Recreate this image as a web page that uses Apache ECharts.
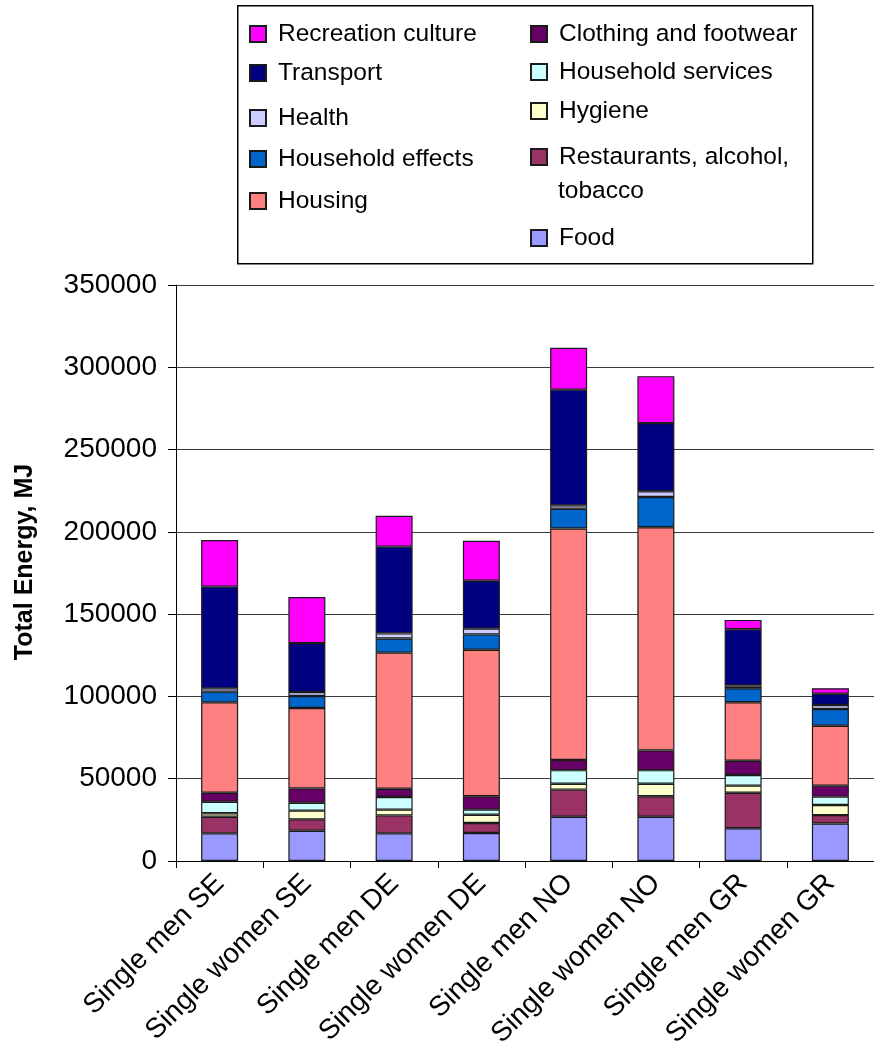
<!DOCTYPE html>
<html>
<head>
<meta charset="utf-8">
<script src="https://cdn.jsdelivr.net/npm/echarts@6/dist/echarts.min.js"></script>
<style>
  html, body { margin: 0; padding: 0; background: #fff; }
  #chart { width: 874px; height: 1055px; }
</style>
</head>
<body>
<div id="chart"></div>
<script>
// Household groups along the x axis
const categories = ['Single men SE', 'Single women SE', 'Single men DE', 'Single women DE',
                    'Single men NO', 'Single women NO', 'Single men GR', 'Single women GR'];

// Energy use per consumption category, MJ (stacked bottom to top)
const food          = [16800, 18400, 16800, 17000, 26900, 26900, 19900, 22800];
const restaurants   = [10100,  6900, 10900,  6100, 16500, 12400, 21600,  5100];
const hygiene       = [ 2100,  5300,  3500,  5000,  3500,  7600,  4300,  6100];
const hhServices    = [ 7000,  4800,  7700,  3100,  8300,  8300,  6500,  5100];
const clothing      = [ 5500,  8700,  5000,  8100,  6200, 12000,  8600,  6700];
const housing       = [54900, 48900, 82700, 89100,140600,135600, 35600, 36400];
const hhEffects     = [ 6500,  7300,  8600,  9300, 12000, 18400,  8500, 10200];
const health        = [ 2000,  2400,  3100,  3500,  2100,  3500,  1600,  2400];
const transport     = [61800, 29700, 52700, 29100, 70300, 41400, 34200,  6800];
const recreation    = [28300, 28000, 18800, 24300, 25400, 28500,  5700,  3400];

const yTicks = { min: 0, max: 350000, interval: 50000 };

const stackDefs = [
  { name: 'Food', data: food, color: '#9999FF' },
  { name: 'Restaurants, alcohol, tobacco', data: restaurants, color: '#993366' },
  { name: 'Hygiene', data: hygiene, color: '#FFFFCC' },
  { name: 'Household services', data: hhServices, color: '#CCFFFF' },
  { name: 'Clothing and footwear', data: clothing, color: '#660066' },
  { name: 'Housing', data: housing, color: '#FF8080' },
  { name: 'Household effects', data: hhEffects, color: '#0066CC' },
  { name: 'Health', data: health, color: '#CCCCFF' },
  { name: 'Transport', data: transport, color: '#000080' },
  { name: 'Recreation culture', data: recreation, color: '#FF00FF' }
];

const FONT = 'Liberation Sans, Arial, sans-serif';
const LEG_FS = 24.5;

// Legend entries: [series name, left, vertical centre, label override]
const legendSlots = [
  ['Recreation culture', 249, 34],
  ['Transport', 249, 73],
  ['Health', 249, 118],
  ['Household effects', 249, 159],
  ['Housing', 249, 201],
  ['Clothing and footwear', 530, 34],
  ['Household services', 530, 72],
  ['Hygiene', 530, 111],
  ['Restaurants, alcohol, tobacco', 530, 157, 'Restaurants, alcohol,'],
  ['Food', 530, 238]
];

const legends = legendSlots.map(([name, left, cy, label]) => ({
  data: [name],
  left: left,
  top: cy - 14,
  padding: 0,
  orient: 'vertical',
  icon: 'rect',
  itemWidth: 16,
  itemHeight: 16,
  itemGap: 0,
  selectedMode: false,
  formatter: label ? () => label : undefined,
  textStyle: { fontFamily: FONT, fontSize: LEG_FS, color: '#000', lineHeight: 28, padding: [0, 0, 0, 7] }
}));

const series = stackDefs.map(s => ({
  name: s.name,
  type: 'bar',
  stack: 'total',
  data: s.data,
  barWidth: 37,
  itemStyle: { color: s.color, borderColor: '#1a1a1a', borderWidth: 1.2 },
  emphasis: { disabled: true },
  animation: false
}));

const chart = echarts.init(document.getElementById('chart'), null, { renderer: 'canvas' });
chart.setOption({
  backgroundColor: '#fff',
  animation: false,
  legend: legends,
  grid: { left: 176, top: 285, width: 708, height: 576, containLabel: false },
  xAxis: {
    type: 'category',
    data: categories,
    axisLine: { show: true, lineStyle: { color: '#000', width: 1 } },
    axisTick: { show: true, length: 7, lineStyle: { color: '#000' } },
    axisLabel: {
      rotate: 45, interval: 0, margin: 18,
      fontFamily: FONT, fontSize: 28, color: '#000'
    },
    splitLine: { show: false }
  },
  yAxis: {
    type: 'value',
    min: yTicks.min, max: yTicks.max, interval: yTicks.interval,
    axisLine: { show: true, lineStyle: { color: '#000', width: 1 } },
    axisTick: { show: true, length: 8, lineStyle: { color: '#000' } },
    axisLabel: {
      margin: 19, fontFamily: FONT, fontSize: 28, color: '#000',
      formatter: v => String(v)
    },
    splitLine: { show: true, lineStyle: { color: '#3a3a3a', width: 1 } }
  },
  graphic: [
    {
      type: 'rect', left: 237, top: 5, z: -1,
      shape: { width: 575, height: 258 },
      style: { fill: '#fff', stroke: '#000', lineWidth: 1.5 }
    },
    {
      type: 'text', x: 558, y: 191,
      style: { text: 'tobacco', fontFamily: FONT, fontSize: LEG_FS, fill: '#000',
               textAlign: 'left', textVerticalAlign: 'middle' }
    },
    {
      type: 'text', x: 25, y: 562, rotation: Math.PI / 2,
      style: { text: 'Total Energy, MJ', fontFamily: FONT, fontSize: 25, fontWeight: 'bold',
               fill: '#000', textAlign: 'center', textVerticalAlign: 'middle' }
    }
  ],
  series: series
});
</script>
</body>
</html>
